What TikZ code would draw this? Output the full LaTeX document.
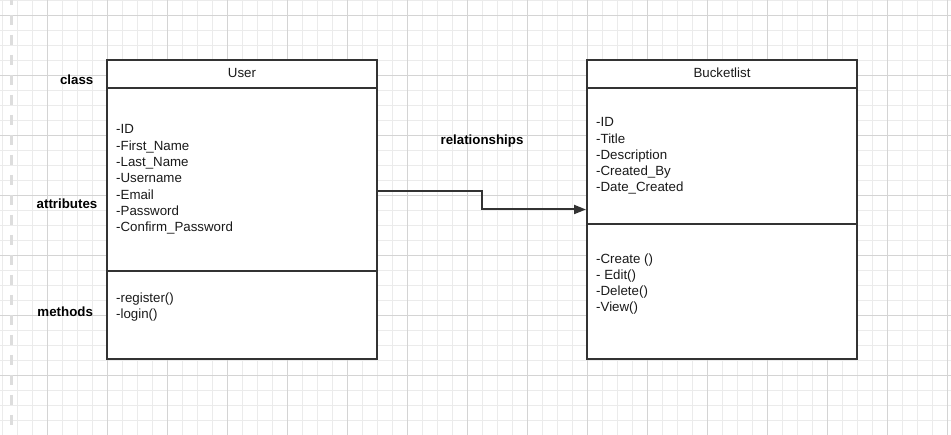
\documentclass[tikz,border=0pt]{standalone}
\usepackage{fontspec}
\setmainfont{Liberation Sans}
\usetikzlibrary{arrows.meta}

\definecolor{gridminor}{HTML}{EBEBEB}
\definecolor{gridmajor}{HTML}{D4D4D4}
\definecolor{umlline}{HTML}{333333}
\definecolor{umltext}{HTML}{1A1A1A}

\tikzset{
  umlclass/.style={draw=umlline, line width=2pt, fill=white,
    minimum width=270pt, minimum height=299pt, inner sep=0pt},
  divider/.style={draw=umlline, line width=2pt},
  member/.style={anchor=base west, inner sep=0pt, text=umltext,
    font=\fontsize{13.3}{16}\selectfont},
  classname/.style={anchor=base, inner sep=0pt, text=umltext,
    font=\fontsize{13.3}{16}\selectfont},
  sidelabel/.style={anchor=base, inner sep=0pt, text=black,
    font=\fontsize{13.3}{16}\selectfont\bfseries},
  relation/.style={draw=umlline, line width=2pt,
    -{Triangle[length=12pt,width=9pt]}}
}

\begin{document}
\begin{tikzpicture}[x=1pt,y=-1pt]

\useasboundingbox (0,0) rectangle (951,435);
\fill[white] (0,0) rectangle (951,435);

% grid paper
\foreach \x in {2,17,...,947} {
	\draw[gridminor, line width=0.8pt] (\x,0) -- (\x,435);
}
\foreach \y in {0,15,...,435} {
	\draw[gridminor, line width=0.8pt] (0,\y) -- (951,\y);
}
\foreach \x in {47,107,...,947} {
	\draw[gridmajor, line width=0.8pt] (\x,0) -- (\x,435);
}
\foreach \y in {15,75,...,435} {
	\draw[gridmajor, line width=0.8pt] (0,\y) -- (951,\y);
}
\draw[color=gridmajor!80, line width=3pt, dash pattern=on 10pt off 10pt, dash phase=5pt] (11.5,0) -- (11.5,435);

% classes
\node[umlclass] (user) at (242,209.5) {};
\node[umlclass] (bucket) at (722,209.5) {};

\draw[divider] (user.west |- 0,88) -- (user.east |- 0,88);
\draw[divider] (user.west |- 0,271) -- (user.east |- 0,271);
\draw[divider] (bucket.west |- 0,88) -- (bucket.east |- 0,88);
\draw[divider] (bucket.west |- 0,224) -- (bucket.east |- 0,224);

\node[classname] (usertitle) at (242,77.5) {User};
\node[classname] (buckettitle) at (722,77.5) {Bucketlist};

\foreach \txt [count=\i] in {-ID, -First\_Name, -Last\_Name, -Username, -Email, -Password, -Confirm\_Password} {
	\node[member] (ua\i) at (116,{117.7+16.3*\i}) {\txt};
}
\foreach \txt [count=\i] in {-register(), -login()} {
	\node[member] (um\i) at (116,{287+16*\i}) {\txt};
}

\foreach \txt [count=\i] in {-ID, -Title, -Description, -Created\_By, -Date\_Created} {
	\node[member] (ba\i) at (596,{110.8+16.2*\i}) {\txt};
}
\foreach \txt [count=\i] in {-Create (), - Edit(), -Delete(), -View()} {
	\node[member] (bm\i) at (596,{248+16*\i}) {\txt};
}

% side labels
\node[sidelabel] (lblclass) at (76.7,84.5) {class};
\node[sidelabel] (lblattr) at (67,209) {attributes};
\node[sidelabel] (lblmeth) at (65.2,316.5) {methods};
\node[sidelabel] (lblrel) at (482,144.5) {relationships};

% association
\coordinate (bend) at (482,191);
\draw[relation] (user.east |- bend) -- (bend) |- (bucket.west);

\end{tikzpicture}
\end{document}
